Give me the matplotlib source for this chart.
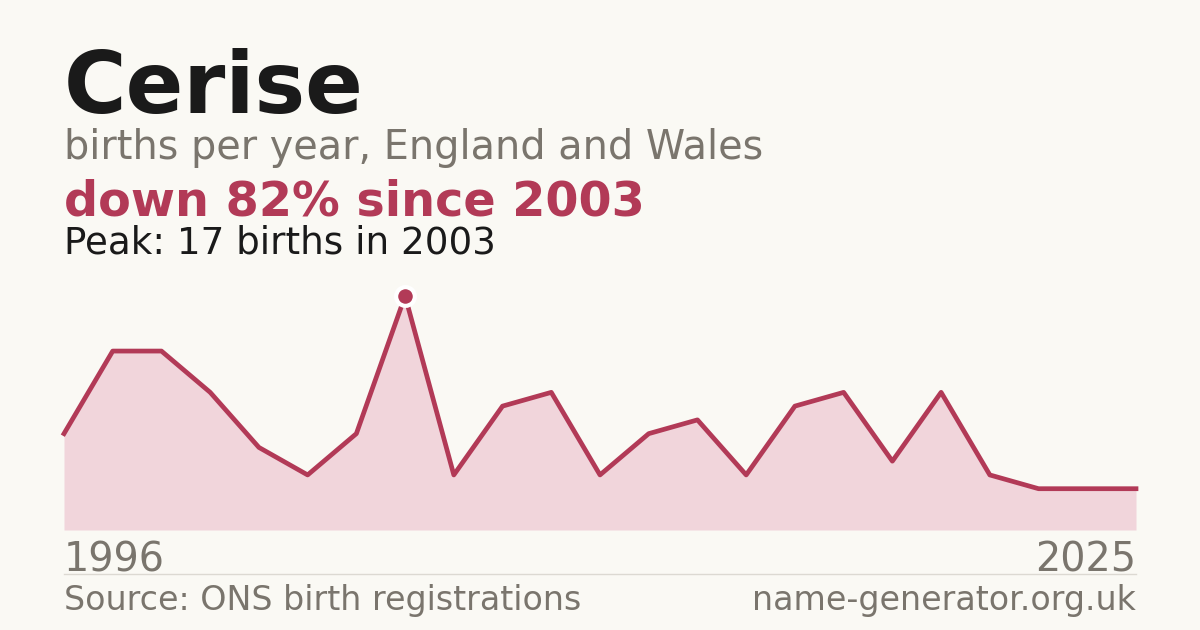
import matplotlib
matplotlib.use("Agg")
import matplotlib.pyplot as plt

W, H = 1200, 630

# births per year (registered years only, first and last labelled)
births = [7, 13, 13, 10, 6, 4, 7, 17, 4, 9, 10, 4, 7, 8, 4, 9, 10, 5, 10, 4, 3, 3, 3]
first_year = "1996"
last_year = "2025"
peak_idx = 7

name = "Cerise"
subtitle = "births per year, England and Wales"
headline = "down 82% since 2003"
peak_text = "Peak: 17 births in 2003"
source = "Source: ONS birth registrations"
site = "name-generator.org.uk"

BG = "#faf9f4"
INK = "#1a1a1a"
GREY = "#7a756d"
RED = "#b23a57"
FILL = "#f1d5db"

plt.rcParams["font.family"] = ["DejaVu Sans"]

fig = plt.figure(figsize=(W / 100, H / 100), dpi=100, facecolor=BG)


def px(x, y):
    return x / W, 1 - y / H


def pt(pixels):
    return pixels * 72 / 100


# header text
fig.text(*px(64, 113), name, fontsize=pt(85.3), fontweight="bold", color=INK, va="baseline")
fig.text(*px(64, 159), subtitle, fontsize=pt(39.8), color=GREY, va="baseline")
fig.text(*px(64, 215), headline, fontsize=pt(47.8), fontweight="bold", color=RED, va="baseline")
fig.text(*px(64, 253), peak_text, fontsize=pt(37.2), color=INK, va="baseline")

# chart area
left, right, bottom, top = 64, 1136, 530, 280
ax = fig.add_axes([left / W, 1 - bottom / H, (right - left) / W, (bottom - top) / H])
ax.set_facecolor(BG)
ax.patch.set_alpha(0)
xs = list(range(len(births)))
px_per_birth = (bottom - 296) / births[peak_idx]
ax.set_xlim(0, len(births) - 1)
ax.set_ylim(0, (bottom - top) / px_per_birth)
ax.fill_between(xs, births, 0, color=FILL, linewidth=0)
ax.plot(xs, births, color=RED, linewidth=3.4, solid_joinstyle="round", clip_on=False)
ax.plot([peak_idx], [births[peak_idx]], "o", color=RED, markersize=13.5,
        markeredgecolor="white", markeredgewidth=3, clip_on=False, zorder=5)
ax.axis("off")

# year labels
fig.text(*px(64, 571), first_year, fontsize=pt(39.8), color=GREY, va="baseline")
fig.text(*px(1136, 571), last_year, fontsize=pt(39.8), color=GREY, va="baseline", ha="right")

# divider
fig.add_artist(plt.Line2D([64 / W, 1136 / W], [1 - 574 / H] * 2, color="#dcd9d2", linewidth=1))

# footer
fig.text(*px(64, 610), source, fontsize=pt(33.3), color=GREY, va="baseline")
fig.text(*px(1136, 610), site, fontsize=pt(33.3), color=GREY, va="baseline", ha="right")

fig.savefig("out.png", dpi=100, facecolor=BG)
